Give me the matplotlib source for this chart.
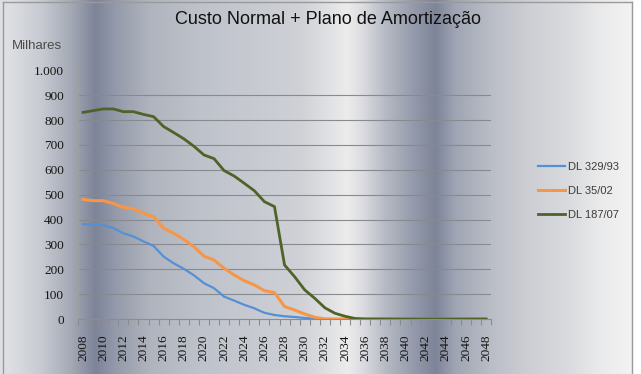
import numpy as np
import matplotlib
matplotlib.use("Agg")
import matplotlib.pyplot as plt
from matplotlib.lines import Line2D

# anos 2008..2048 (valores em milhares)
years = list(range(2008, 2049))
dl_329_93 = [381, 380, 377, 366, 345, 332, 312, 294, 251, 224, 202, 176, 144, 124,
             90, 74, 57, 43, 25, 16, 11, 8, 4, 1] + [0] * 17
dl_35_02 = [481, 476, 476, 465, 449, 444, 425, 412, 365, 345, 320, 291, 253, 237,
            204, 177, 154, 137, 114, 106, 50, 36, 20, 7] + [0] * 17
dl_187_07 = [831, 838, 845, 845, 834, 834, 823, 814, 774, 750, 725, 695, 660, 645,
             597, 575, 546, 516, 472, 452, 217, 170, 117, 83, 45, 23, 11, 2] + [0] * 13
series_names = ["DL 329/93", "DL 35/02", "DL 187/07"]
y_ticks = [0, 100, 200, 300, 400, 500, 600, 700, 800, 900, 1000]
y_labels = ["0", "100", "200", "300", "400", "500", "600", "700", "800", "900", "1.000"]

W, H = 641, 374
fig = plt.figure(figsize=(W / 100, H / 100), dpi=100)

# fundo com faixas verticais (gradiente metalico)
bg = fig.add_axes([0, 0, 1, 1])
bg.set_xlim(0, W)
bg.set_ylim(H, 0)
bg.axis("off")
stops = [(0, (222, 224, 228)), (10, (220, 222, 226)), (40, (200, 203, 210)),
         (70, (165, 170, 182)), (95, (125, 132, 152)), (115, (148, 154, 170)),
         (150, (176, 180, 190)), (200, (190, 194, 202)), (260, (200, 203, 210)),
         (300, (207, 209, 214)), (325, (222, 223, 226)), (347, (236, 236, 236)),
         (362, (220, 221, 225)), (385, (182, 186, 196)), (410, (152, 158, 174)),
         (435, (125, 132, 152)), (455, (160, 165, 180)), (490, (185, 189, 198)),
         (530, (205, 207, 212)), (570, (218, 219, 222)), (600, (234, 234, 235)),
         (632, (243, 243, 243))]
xs = np.arange(W)
sx = [s[0] for s in stops]
grad = np.zeros((1, W, 3))
for c in range(3):
    grad[0, :, c] = np.interp(xs, sx, [s[1][c] for s in stops]) / 255.0
grad[0, 633:, :] = 1.0
bg.imshow(grad, aspect="auto", extent=(0, W, H, 0), interpolation="bilinear")
border = "#9a9a9a"
bg.add_line(Line2D([3, 3], [2, H], color=border, lw=1))
bg.add_line(Line2D([3, 632], [2, 2], color=border, lw=1))
bg.add_line(Line2D([632, 632], [2, H], color=border, lw=1))

# area do grafico
ax = fig.add_axes([77.96 / W, 55 / H, 413.2 / W, 248.6 / H])
ax.patch.set_alpha(0)
x = np.arange(len(years))
for v in y_ticks[1:-1]:
    ax.axhline(v, color="#878a8f", lw=0.8, zorder=1)

l1, = ax.plot(x, dl_329_93, color="#5590d6", lw=1.6, zorder=3)
l2, = ax.plot(x, dl_35_02, color="#f79646", lw=2.2, zorder=3)
l3, = ax.plot(x, dl_187_07, color="#4f6228", lw=2.0, zorder=3)

ax.set_xlim(-0.5, len(years) - 0.5)
ax.set_ylim(0, 1000)
for s in ["top", "right"]:
    ax.spines[s].set_visible(False)
ax.spines["left"].set_color("#a0a0a0")
ax.spines["left"].set_linewidth(0.8)
ax.spines["bottom"].set_color("#8c8c8c")
ax.spines["bottom"].set_linewidth(0.8)

serif = ["Liberation Serif", "DejaVu Serif"]
ax.set_yticks(y_ticks)
ax.set_yticklabels(y_labels, family=serif, fontsize=9.5, color="#151515")
ax.tick_params(axis="y", length=0, pad=10)

even = [i for i, yr in enumerate(years) if yr % 2 == 0]
ax.set_xticks(even)
ax.set_xticklabels([str(years[i]) for i in even], rotation=90, family=serif,
                   fontsize=9.5, color="#151515")
ax.set_xticks(np.arange(-0.5, len(years)), minor=True)
ax.tick_params(axis="x", which="major", length=0, pad=11)
ax.tick_params(axis="x", which="minor", length=4, color="#8c8c8c", width=0.8)

fig.text(328 / W, 1 - 20 / H, "Custo Normal + Plano de Amortização",
         family=["Liberation Sans", "DejaVu Sans"], fontsize=13, color="#111111",
         ha="center", va="center")
fig.text(37 / W, 1 - 46 / H, "Milhares", family=["Liberation Sans", "DejaVu Sans"],
         fontsize=9.5, color="#4a4a4a", ha="center", va="center")

leg = fig.legend([l1, l2, l3], series_names, loc="upper left",
                 bbox_to_anchor=(528 / W, 1 - 152 / H), frameon=False,
                 prop={"family": ["Liberation Sans", "DejaVu Sans"], "size": 8},
                 handlelength=2.4, handletextpad=0.3, labelspacing=1.25)
for t in leg.get_texts():
    t.set_color("#3c3c3c")

fig.savefig("out.png", dpi=100)
